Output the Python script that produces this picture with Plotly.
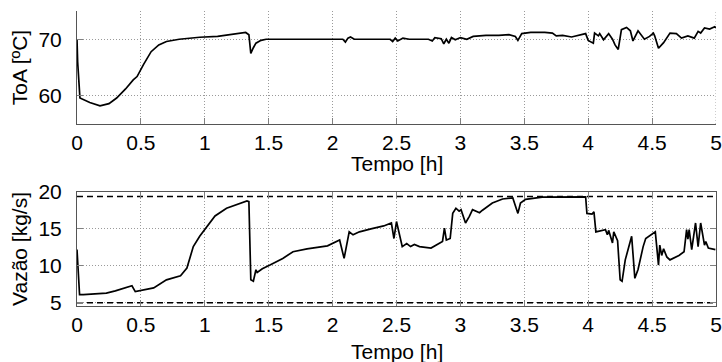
import plotly.graph_objects as go

# ---- data ----
t_temp = [0.0, 0.005, 0.023, 0.1, 0.18, 0.25, 0.31, 0.38, 0.44, 0.47, 0.52, 0.58, 0.64, 0.70, 0.80, 0.96,
          1.1, 1.2, 1.32, 1.345, 1.36, 1.38, 1.40, 1.44, 1.48, 1.7, 2.0, 2.08, 2.10, 2.12, 2.14, 2.17,
          2.3, 2.45, 2.47, 2.49, 2.51, 2.55, 2.6, 2.75, 2.78, 2.8, 2.85, 2.87, 2.89, 2.91, 2.93, 2.96,
          3.0, 3.05, 3.1, 3.2, 3.3, 3.38, 3.43, 3.45, 3.48, 3.55, 3.66, 3.72, 3.75, 3.8, 3.87, 3.93,
          3.98, 4.0, 4.04, 4.05, 4.08, 4.09, 4.12, 4.16, 4.19, 4.21, 4.235, 4.26, 4.30, 4.33, 4.35,
          4.39, 4.42, 4.44, 4.48, 4.51, 4.52, 4.55, 4.59, 4.64, 4.69, 4.73, 4.78, 4.83, 4.86, 4.88,
          4.91, 4.95, 4.99, 5.0]
toa = [70.0, 66.0, 59.6, 58.8, 58.2, 58.6, 59.6, 61.2, 62.8, 63.4, 65.5, 67.8, 69.0, 69.6, 70.0, 70.35,
       70.5, 70.8, 71.2, 70.8, 67.5, 68.5, 69.3, 69.8, 70.0, 70.0, 70.0, 70.0, 69.5, 70.2, 70.4, 70.0,
       70.0, 70.0, 69.6, 70.2, 69.7, 70.2, 70.0, 70.0, 69.7, 70.3, 70.1, 69.2, 70.0, 69.3, 70.3, 69.9,
       70.3, 70.0, 70.5, 70.7, 70.7, 70.8, 70.5, 69.8, 71.0, 71.2, 71.2, 71.1, 70.6, 70.7, 70.4, 70.8,
       71.0, 69.8, 69.3, 71.1, 70.6, 71.0, 69.9, 71.0, 70.0, 69.0, 68.2, 71.7, 72.1, 71.5, 69.7,
       71.5, 70.7, 70.0, 70.5, 71.1, 70.6, 68.4, 69.4, 71.1, 71.0, 70.2, 70.6, 70.2, 71.4, 71.1,
       72.0, 71.8, 72.2, 72.0]

t_flow = [0.0, 0.02, 0.05, 0.18, 0.23, 0.3, 0.43, 0.456, 0.52, 0.60, 0.70, 0.81, 0.86, 0.91, 0.96, 1.02,
          1.08, 1.17, 1.25, 1.33, 1.345, 1.36, 1.38, 1.40, 1.41, 1.45, 1.51, 1.61, 1.69, 1.80, 1.96,
          2.055, 2.09, 2.13, 2.16, 2.21, 2.30, 2.40, 2.46, 2.48, 2.50, 2.52, 2.545, 2.58, 2.61, 2.64,
          2.68, 2.77, 2.86, 2.875, 2.89, 2.92, 2.94, 2.965, 2.99, 3.005, 3.04, 3.07, 3.095, 3.15, 3.17,
          3.25, 3.33, 3.41, 3.45, 3.47, 3.51, 3.64, 3.98, 3.99, 4.03, 4.045, 4.06, 4.135, 4.15, 4.16,
          4.19, 4.20, 4.23, 4.25, 4.265, 4.29, 4.33, 4.34, 4.365, 4.39, 4.43, 4.45, 4.525, 4.55, 4.56,
          4.575, 4.59, 4.615, 4.64, 4.71, 4.75, 4.77, 4.78, 4.79, 4.81, 4.84, 4.86, 4.88, 4.91, 4.92,
          4.94, 4.995]
vazao = [12.2, 6.1, 6.1, 6.3, 6.3, 6.6, 7.3, 6.5, 6.7, 7.0, 8.1, 8.65, 9.7, 12.6, 14.0, 15.4,
         16.75, 17.8, 18.3, 18.8, 18.7, 8.1, 7.9, 9.46, 9.1, 9.6, 10.1, 11.0, 11.9, 12.3, 12.7,
         13.5, 11.0, 14.6, 14.2, 14.6, 15.0, 15.4, 15.8, 13.7, 16.0, 14.6, 12.6, 13.0, 12.6, 12.9,
         12.6, 12.4, 13.3, 15.1, 13.5, 13.7, 17.1, 17.8, 17.4, 17.6, 15.8, 16.7, 17.6, 17.2, 17.5,
         18.5, 19.05, 19.2, 17.1, 18.5, 19.0, 19.3, 19.35, 17.1, 17.0, 17.3, 14.6, 14.9, 14.2, 14.8,
         13.1, 14.6, 13.4, 8.1, 7.9, 10.8, 13.5, 14.0, 8.3, 9.5, 12.6, 13.7, 14.6, 10.1, 12.8,
         11.4, 12.3, 11.2, 10.8, 11.4, 11.9, 14.9, 13.6, 14.9, 12.2, 15.8, 12.6, 15.8, 12.8, 13.3,
         12.4, 12.2]

t_lim = [0.0, 5.0]
vazao_max = [19.4, 19.4]
vazao_min = [5.0, 5.0]

x_ticks = [0, 0.5, 1, 1.5, 2, 2.5, 3, 3.5, 4, 4.5, 5]
x_ticktext = ["0", "0.5", "1", "1.5", "2", "2.5", "3", "3.5", "4", "4.5", "5"]
toa_ticks = [60, 70]
vazao_ticks = [5, 10, 15, 20]

# ---- figure ----
W, H = 722, 362
FONT = "Liberation Sans, Arial, sans-serif"
TICK_SIZE = 21
TITLE_SIZE = 21
GRID = "#9a9a9a"
X0, X1 = 77, 716

fig = go.Figure()
fig.add_trace(go.Scatter(x=t_temp, y=toa, mode="lines", line=dict(color="black", width=1.7),
                         xaxis="x", yaxis="y", showlegend=False))
fig.add_trace(go.Scatter(x=t_flow, y=vazao, mode="lines", line=dict(color="black", width=1.7),
                         xaxis="x2", yaxis="y2", showlegend=False))
for lim in (vazao_max, vazao_min):
    fig.add_trace(go.Scatter(x=t_lim, y=lim, mode="lines",
                             line=dict(color="black", width=1.4, dash="6px,4px"),
                             xaxis="x2", yaxis="y2", showlegend=False))

common_x = dict(range=[0, 5], tickvals=x_ticks, ticktext=x_ticktext, ticks="inside", ticklen=6,
                tickcolor="#808080", showline=True, linecolor="#555555", linewidth=1,
                showgrid=True, gridcolor=GRID, griddash="1px,2px", gridwidth=1,
                zeroline=False, automargin=False, ticklabeloverflow="allow",
                tickfont=dict(size=TICK_SIZE, color="black", family=FONT),
                ticklabelstandoff=0)
common_y = dict(ticks="inside", ticklen=6, tickcolor="#808080", showline=True, linecolor="#555555",
                linewidth=1, showgrid=True, gridcolor=GRID, griddash="1px,2px", gridwidth=1,
                zeroline=False, automargin=False, ticklabeloverflow="allow",
                tickfont=dict(size=TICK_SIZE, color="black", family=FONT),
                ticklabelstandoff=10)

x_title_font = dict(size=TITLE_SIZE, color="black", family=FONT)

fig.update_layout(
    template="none",
    width=W, height=H,
    margin=dict(l=0, r=0, t=0, b=0),
    paper_bgcolor="white", plot_bgcolor="white",
    xaxis=dict(domain=[X0 / W, X1 / W], anchor="y", mirror=False, **common_x),
    yaxis=dict(domain=[1 - 124 / H, 1 - 11 / H], anchor="x", range=[55, 75], tickvals=toa_ticks,
               mirror=False,
               title=dict(text="ToA [ºC]", font=dict(size=TITLE_SIZE, color="black", family=FONT),
                          standoff=5),
               **common_y),
    xaxis2=dict(domain=[X0 / W, X1 / W], anchor="y2", mirror="ticks", **common_x),
    yaxis2=dict(domain=[1 - 306 / H, 1 - 192 / H], anchor="x2", range=[4.55, 20], tickvals=vazao_ticks,
                mirror="ticks",
                title=dict(text="Vazão [kg/s]", font=dict(size=TITLE_SIZE, color="black", family=FONT),
                           standoff=5),
                **common_y),
    shapes=[dict(type="line", xref="x", yref="y domain", x0=5, x1=5, y0=0, y1=1,
                 line=dict(color=GRID, width=1, dash="1px,2px"), layer="below")],
    annotations=[
        dict(text="Tempo [h]", xref="x domain", yref="paper", x=0.5, y=1 - 163 / H,
             xanchor="center", yanchor="middle", showarrow=False, font=x_title_font),
        dict(text="Tempo [h]", xref="x2 domain", yref="paper", x=0.5, y=1 - 351 / H,
             xanchor="center", yanchor="middle", showarrow=False, font=x_title_font),
    ],
)

fig.write_html("out.html")
